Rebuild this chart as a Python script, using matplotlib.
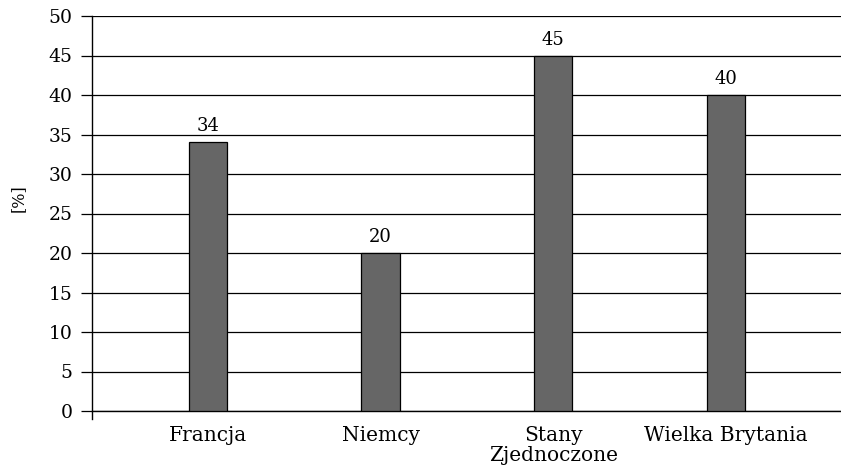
import matplotlib
matplotlib.use("Agg")
import matplotlib.pyplot as plt

countries = ["Francja", "Niemcy", "Stany\nZjednoczone", "Wielka Brytania"]
shares = [34, 20, 45, 40]
y_ticks = [0, 5, 10, 15, 20, 25, 30, 35, 40, 45, 50]

plt.rcParams["font.family"] = ["DejaVu Serif"]

fig = plt.figure(figsize=(8.41, 4.71), dpi=100)
ax = fig.add_axes([92 / 841, 60 / 471, 1 - 92 / 841, 395 / 471])

x = list(range(len(countries)))
ax.bar(x, shares, width=0.222, color="#666666", edgecolor="black",
       linewidth=0.9, zorder=3)
for xi, v in zip(x, shares):
    ax.annotate(f"{v}", (xi, v), xytext=(0, 5), textcoords="offset points",
                ha="center", va="bottom", fontsize=13)

ax.set_xlim(-0.672, 3.668)
ax.set_ylim(0, 50)
ax.set_yticks(y_ticks)
ax.set_yticklabels([str(t) for t in y_ticks], fontsize=13.5)
ax.yaxis.grid(True, color="black", linewidth=0.9, zorder=0)
ax.set_axisbelow(True)

ax.set_xticks(x)
ax.set_xticklabels(countries, fontsize=14.5, linespacing=1.05)
ax.tick_params(axis="x", length=0, pad=11)
ax.tick_params(axis="y", length=8, width=0.9, color="black", pad=6)

for side in ("top", "right"):
    ax.spines[side].set_visible(False)
ax.spines["left"].set_linewidth(1.0)
ax.spines["bottom"].set_linewidth(1.0)
ax.spines["left"].set_bounds(-0.95, 50)

ax.set_ylabel("[%]", fontsize=11.5)
ax.yaxis.set_label_coords(-0.087, 0.54)

fig.savefig("out.png", dpi=100)
